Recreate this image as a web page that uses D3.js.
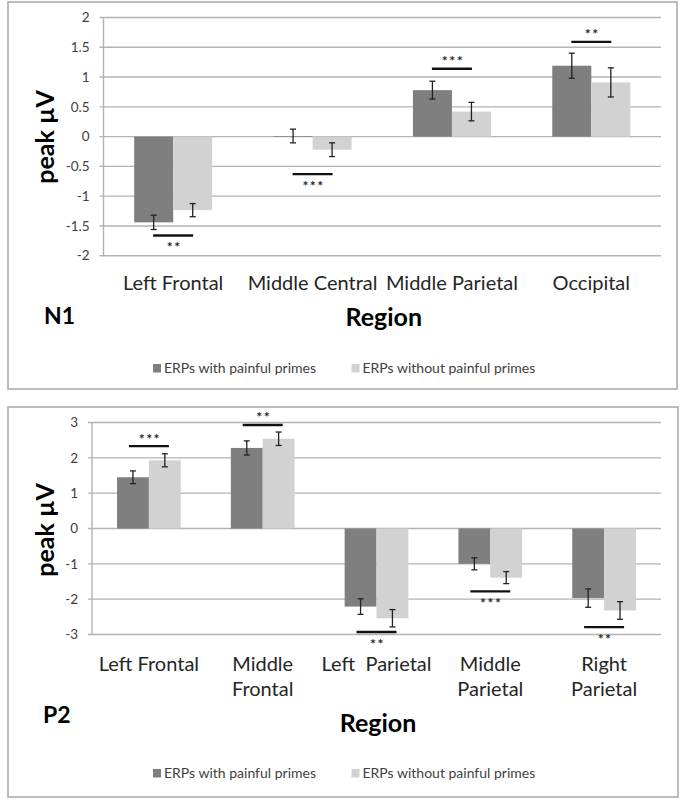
<!DOCTYPE html>
<html>
<head>
<meta charset="utf-8">
<script src="https://cdn.jsdelivr.net/npm/d3@7"></script>
<style>
  html, body { margin: 0; padding: 0; background: #fff; }
  svg { display: block; font-family: Lato, "Open Sans", sans-serif; }
</style>
</head>
<body>
<svg id="chart" width="682" height="800"></svg>
<script>
// ---------- DATA ----------
const seriesNames = ["ERPs with painful primes", "ERPs without painful primes"];

// N1 panel
const n1Categories = [["Left Frontal"], ["Middle Central"], ["Middle Parietal"], ["Occipital"]];
const n1WithPain = [-1.44, 0.01, 0.78, 1.19];
const n1WithoutPain = [-1.235, -0.22, 0.42, 0.91];
const n1WithPainErr = [0.12, 0.115, 0.15, 0.21];
const n1WithoutPainErr = [0.11, 0.115, 0.155, 0.245];
const n1SigLevel = [-1.66, -0.63, 1.14, 1.59];
const n1SigLabel = ["**", "***", "***", "**"];
const n1Ticks = [2, 1.5, 1, 0.5, 0, -0.5, -1, -1.5, -2];

// P2 panel
const p2Categories = [["Left Frontal"], ["Middle", "Frontal"], ["Left  Parietal"], ["Middle", "Parietal"], ["Right", "Parietal"]];
const p2WithPain = [1.45, 2.28, -2.21, -1.0, -1.97];
const p2WithoutPain = [1.93, 2.54, -2.54, -1.39, -2.32];
const p2WithPainErr = [0.18, 0.2, 0.22, 0.17, 0.26];
const p2WithoutPainErr = [0.185, 0.19, 0.245, 0.17, 0.25];
const p2SigLevel = [2.33, 2.93, -2.93, -1.78, -2.79];
const p2SigLabel = ["***", "**", "**", "***", "**"];
const p2Ticks = [3, 2, 1, 0, -1, -2, -3];

// ---------- STYLE ----------
const colors = ["#7f7f7f", "#d2d2d2"];

const svg = d3.select("#chart");
svg.append("rect").attr("width", 682).attr("height", 800).attr("fill", "#fff");

function drawPanel(cfg) {
  const g = svg.append("g");
  // frame
  g.append("rect")
    .attr("x", cfg.frame[0]).attr("y", cfg.frame[1])
    .attr("width", cfg.frame[2]).attr("height", cfg.frame[3])
    .attr("fill", "#fff").attr("stroke", "#a6a6a6").attr("stroke-width", 1.5);

  const y = d3.scaleLinear().domain(cfg.domain).range([cfg.plot.bottom, cfg.plot.top]);
  const idx = cfg.categories.map((d, i) => i);
  const x = d3.scaleBand().domain(idx).range([cfg.plot.left, cfg.plot.right]).paddingInner(0).paddingOuter(0);
  const bw = x.bandwidth();
  const xs = d3.scaleBand().domain([0, 1]).range([bw * 0.22, bw * 0.78]).padding(0);

  // gridlines
  g.append("g").selectAll("line").data(cfg.ticks).join("line")
    .attr("x1", cfg.plot.left - 4).attr("x2", cfg.plot.right)
    .attr("y1", d => y(d)).attr("y2", d => y(d))
    .attr("stroke", "#b3b3b3").attr("stroke-width", 1.4);

  // y axis line
  g.append("line")
    .attr("x1", cfg.plot.left).attr("x2", cfg.plot.left)
    .attr("y1", y(cfg.domain[1])).attr("y2", y(cfg.domain[0]))
    .attr("stroke", "#b3b3b3").attr("stroke-width", 1.4);

  // tick labels
  g.append("g").selectAll("text").data(cfg.ticks).join("text")
    .attr("x", cfg.plot.left - 14).attr("y", d => y(d))
    .attr("dy", "0.35em")
    .attr("text-anchor", "end")
    .attr("font-size", 13.5).attr("fill", "#404040")
    .text(d => String(d));

  // bars
  const series = [cfg.a, cfg.b];
  const errs = [cfg.aErr, cfg.bErr];
  series.forEach((vals, s) => {
    g.append("g").selectAll("rect").data(vals).join("rect")
      .attr("x", (d, i) => x(i) + xs(s))
      .attr("width", xs.bandwidth())
      .attr("y", d => y(Math.max(0, d)))
      .attr("height", d => Math.abs(y(d) - y(0)))
      .attr("fill", colors[s]);
  });

  // error bars
  series.forEach((vals, s) => {
    const eg = g.append("g").attr("stroke", "#222").attr("stroke-width", 1.3);
    vals.forEach((v, i) => {
      const cx = x(i) + xs(s) + xs.bandwidth() / 2;
      const e = errs[s][i];
      eg.append("line").attr("x1", cx).attr("x2", cx).attr("y1", y(v + e)).attr("y2", y(v - e));
      eg.append("line").attr("x1", cx - 3).attr("x2", cx + 3).attr("y1", y(v + e)).attr("y2", y(v + e));
      eg.append("line").attr("x1", cx - 3).attr("x2", cx + 3).attr("y1", y(v - e)).attr("y2", y(v - e));
    });
  });

  // significance lines and stars
  cfg.sig.forEach((lv, i) => {
    const cx = x(i) + bw / 2;
    g.append("line")
      .attr("x1", cx - 20).attr("x2", cx + 20)
      .attr("y1", y(lv)).attr("y2", y(lv))
      .attr("stroke", "#111").attr("stroke-width", 2.4);
    const starCenter = lv >= 0 ? y(lv) - 10 : y(lv) + 9;
    g.append("text")
      .attr("x", cx + 1).attr("y", starCenter + 7.5)
      .attr("text-anchor", "middle")
      .attr("font-size", 14).attr("font-weight", "bold").attr("letter-spacing", 1.5)
      .attr("fill", "#2a2a2a")
      .text(cfg.sigLabel[i]);
  });

  // category labels
  cfg.categories.forEach((lines, i) => {
    const t = g.append("text")
      .attr("text-anchor", "middle")
      .attr("font-size", 20).attr("fill", "#262626")
      .attr("y", cfg.catY);
    lines.forEach((ln, k) => {
      t.append("tspan").attr("x", x(i) + bw / 2).attr("y", cfg.catY + k * 25)
        .attr("xml:space", "preserve").style("white-space", "pre").text(ln);
    });
  });

  // y axis title
  g.append("text")
    .attr("transform", `translate(${cfg.yTitle[0]},${cfg.yTitle[1]}) rotate(-90)`)
    .attr("text-anchor", "middle")
    .attr("font-size", 25).attr("font-weight", "bold").attr("fill", "#000")
    .text("peak µV");

  // panel label
  g.append("text")
    .attr("x", cfg.panelLabelPos[0]).attr("y", cfg.panelLabelPos[1])
    .attr("font-size", 23).attr("font-weight", "bold").attr("fill", "#000")
    .text(cfg.panelLabel);

  // x axis title
  g.append("text")
    .attr("x", (cfg.plot.left + cfg.plot.right) / 2 + 1.5).attr("y", cfg.regionY)
    .attr("text-anchor", "middle")
    .attr("font-size", 25).attr("font-weight", "bold").attr("fill", "#000")
    .text("Region");

  // legend
  const legX = [153, 351.5];
  seriesNames.forEach((nm, s) => {
    g.append("rect").attr("x", legX[s]).attr("y", cfg.legendY - 4.5)
      .attr("width", 8).attr("height", 8.5).attr("fill", colors[s]);
    g.append("text").attr("x", legX[s] + 11).attr("y", cfg.legendY)
      .attr("dy", "0.35em").attr("font-size", 14).attr("fill", "#404040")
      .text(nm);
  });
}

drawPanel({
  frame: [8, 2, 669, 387],
  plot: { left: 103.5, right: 661, top: 17.5, bottom: 255.7 },
  domain: [-2, 2],
  ticks: n1Ticks,
  categories: n1Categories,
  a: n1WithPain, b: n1WithoutPain, aErr: n1WithPainErr, bErr: n1WithoutPainErr,
  sig: n1SigLevel, sigLabel: n1SigLabel,
  catY: 290,
  yTitle: [54, 137],
  panelLabel: "N1", panelLabelPos: [44, 324],
  regionY: 326,
  legendY: 368.5
});

drawPanel({
  frame: [8, 407, 670, 390],
  plot: { left: 92, right: 661, top: 422.5, bottom: 634.5 },
  domain: [-3, 3],
  ticks: p2Ticks,
  categories: p2Categories,
  a: p2WithPain, b: p2WithoutPain, aErr: p2WithPainErr, bErr: p2WithoutPainErr,
  sig: p2SigLevel, sigLabel: p2SigLabel,
  catY: 671,
  yTitle: [54, 530],
  panelLabel: "P2", panelLabelPos: [43, 723],
  regionY: 732,
  legendY: 773.5
});
</script>
</body>
</html>
